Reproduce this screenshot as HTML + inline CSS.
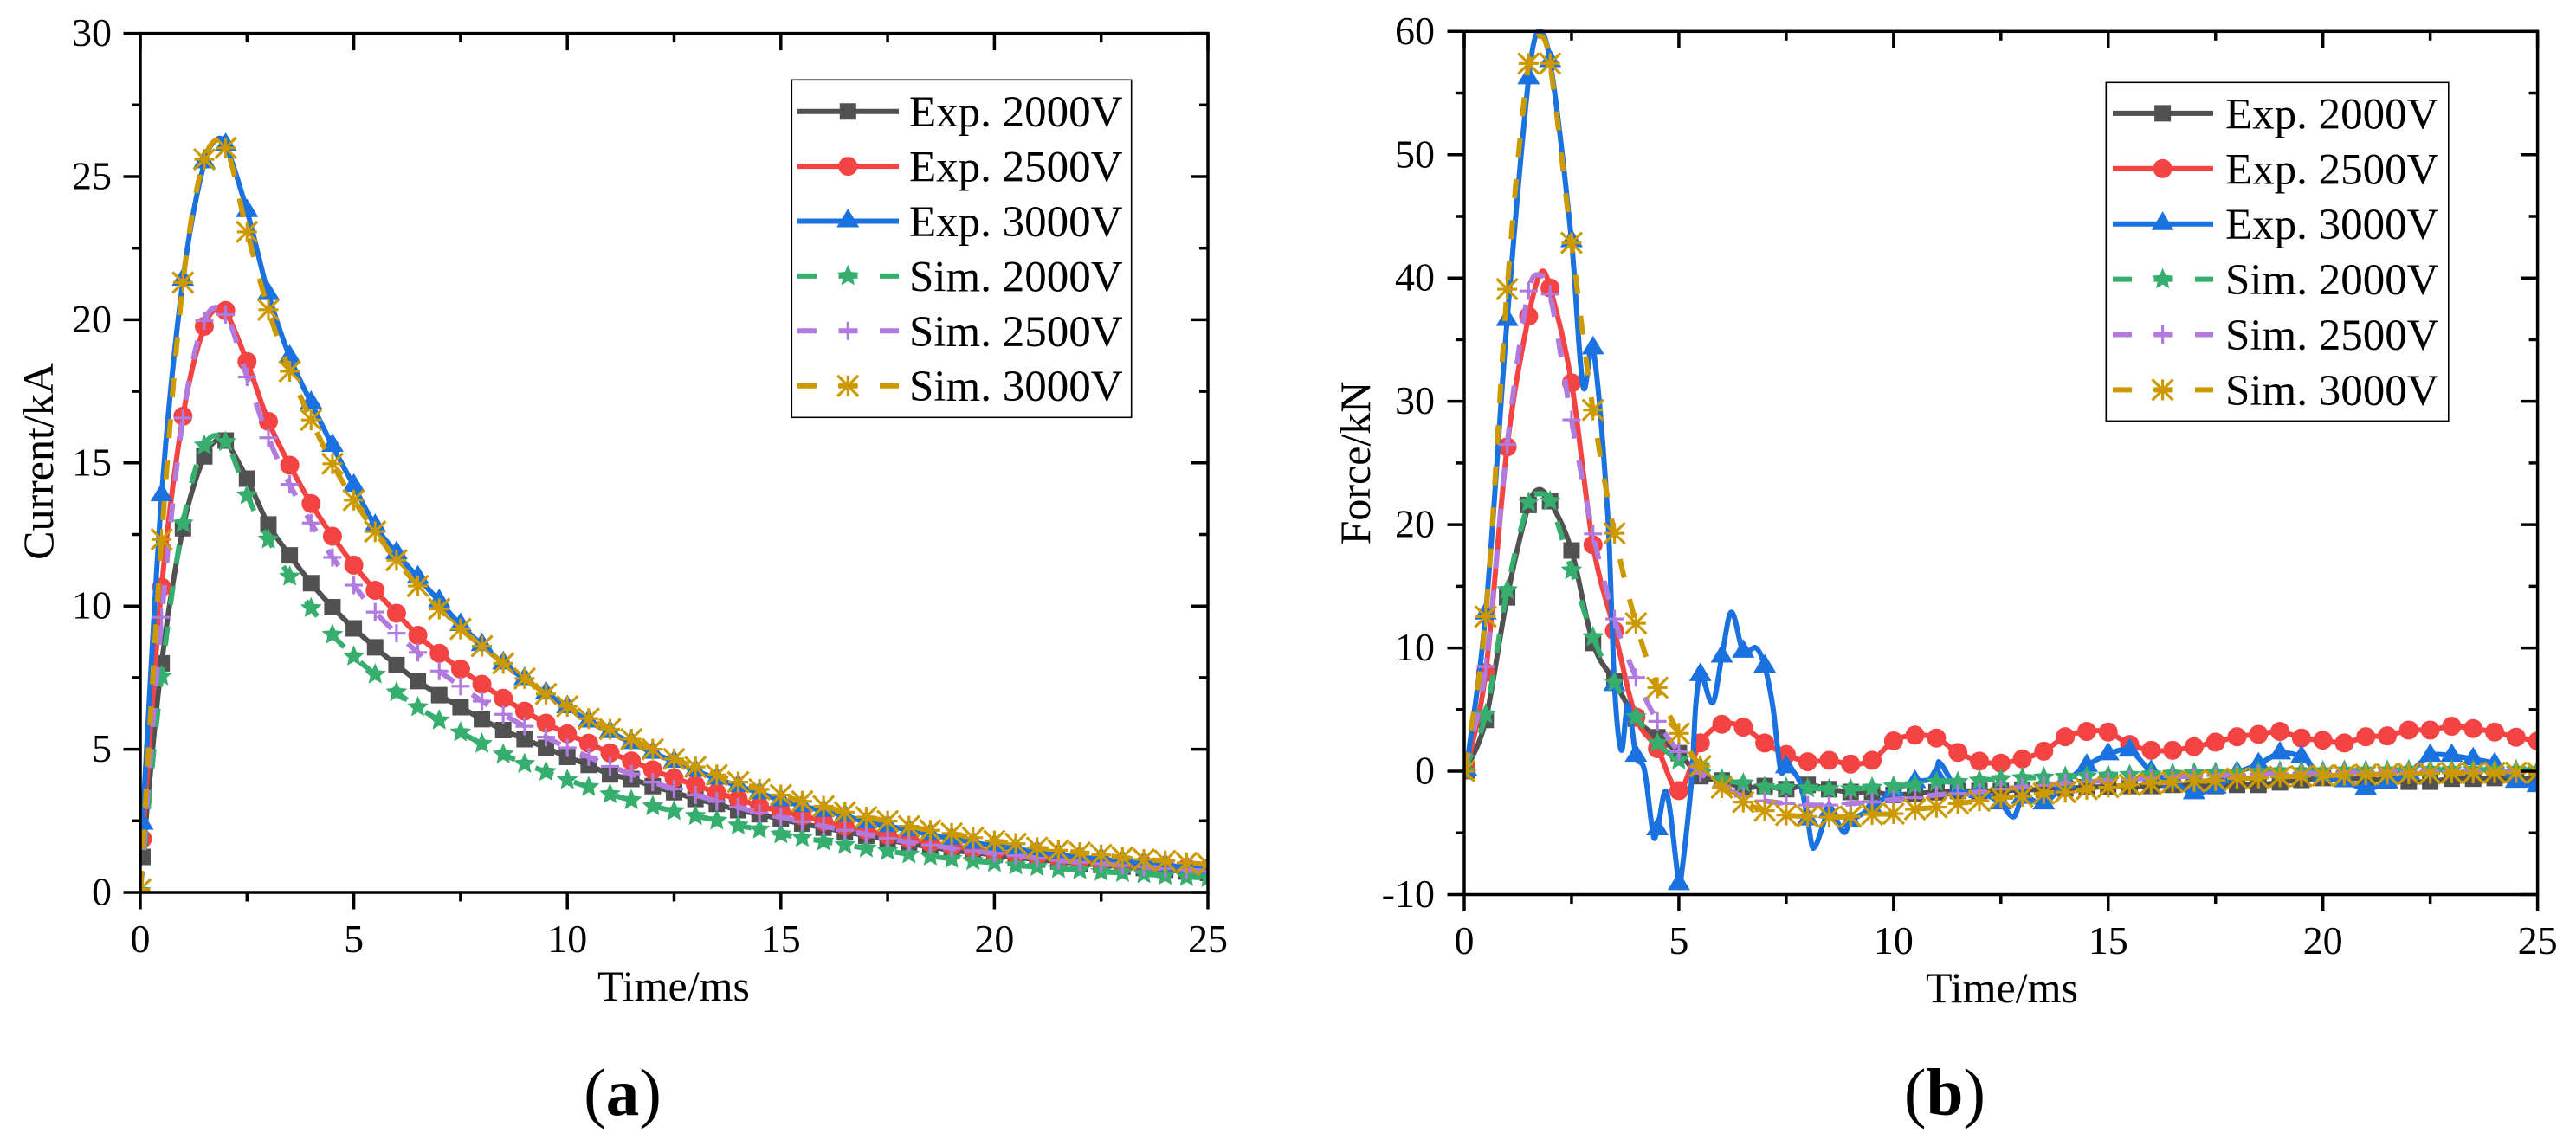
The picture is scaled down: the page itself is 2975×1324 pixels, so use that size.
<!DOCTYPE html>
<html lang="en">
<head>
<meta charset="utf-8">
<title>Current and force versus time</title>
<style>
html,body{margin:0;padding:0;background:#fff;width:2975px;height:1324px;overflow:hidden}
svg{display:block;font-family:"Liberation Serif",serif}
</style>
</head>
<body>
<svg id="figure" xmlns="http://www.w3.org/2000/svg" width="2975" height="1324" viewBox="0 0 2975 1324">
<rect width="2975" height="1324" fill="#fff"/>
</svg>
<script>
// ---- data ----
const simTimes = [0,0.5,1,1.5,2,2.5,3,3.5,4,4.5,5,5.5,6,6.5,7,7.5,8,8.5,9,9.5,10,10.5,11,11.5,12,12.5,13,13.5,14,14.5,15,15.5,16,16.5,17,17.5,18,18.5,19,19.5,20,20.5,21,21.5,22,22.5,23,23.5,24,24.5,25];
const expTimes = [0.05,0.5,1,1.5,2,2.5,3,3.5,4,4.5,5,5.5,6,6.5,7,7.5,8,8.5,9,9.5,10,10.5,11,11.5,12,12.5,13,13.5,14,14.5,15,15.5,16,16.5,17,17.5,18,18.5,19,19.5,20,20.5,21,21.5,22,22.5,23,23.5,24,24.5,25];

const seriesNames = ["Exp. 2000V","Exp. 2500V","Exp. 3000V","Sim. 2000V","Sim. 2500V","Sim. 3000V"];

const currentExp2000 = [1.24,8.0,12.72,15.23,15.78,14.45,12.85,11.77,10.8,9.96,9.22,8.56,7.94,7.38,6.89,6.47,6.05,5.67,5.35,5.05,4.73,4.45,4.12,3.96,3.71,3.5,3.26,3.09,2.87,2.73,2.56,2.4,2.26,2.12,1.98,1.84,1.7,1.59,1.47,1.39,1.31,1.22,1.15,1.08,1.01,0.96,0.9,0.85,0.79,0.73,0.68];
const currentExp2500 = [1.87,10.66,16.63,19.77,20.32,18.54,16.45,14.92,13.58,12.44,11.43,10.55,9.75,8.98,8.35,7.8,7.27,6.78,6.33,5.91,5.54,5.21,4.87,4.59,4.28,3.99,3.75,3.48,3.26,3.01,2.84,2.67,2.48,2.31,2.17,2.0,1.87,1.73,1.61,1.52,1.42,1.33,1.26,1.19,1.12,1.07,1.01,0.96,0.9,0.86,0.82];
const currentExp3000 = [2.4,13.87,21.4,25.5,26.1,23.8,20.9,18.7,17.1,15.6,14.2,12.8,11.85,11.0,10.17,9.34,8.64,8.0,7.45,6.95,6.47,5.97,5.6,5.22,4.88,4.56,4.25,3.97,3.72,3.47,3.22,3.02,2.85,2.68,2.45,2.32,2.17,2.02,1.88,1.74,1.63,1.52,1.42,1.32,1.24,1.16,1.08,1.02,0.95,0.88,0.85];
const currentSim2000 = [0.05,7.55,12.89,15.61,15.73,13.87,12.33,11.03,9.93,9.0,8.24,7.61,6.99,6.47,6.01,5.59,5.19,4.82,4.49,4.21,3.93,3.68,3.43,3.22,3.01,2.84,2.67,2.51,2.34,2.2,2.03,1.91,1.78,1.66,1.54,1.45,1.33,1.26,1.17,1.1,1.03,0.94,0.89,0.82,0.78,0.72,0.68,0.64,0.58,0.54,0.5];
const currentSim2500 = [0.05,9.61,16.57,19.97,20.18,18.0,15.88,14.25,12.9,11.7,10.73,9.79,9.05,8.38,7.73,7.2,6.68,6.22,5.8,5.42,5.05,4.73,4.4,4.14,3.85,3.61,3.4,3.18,2.98,2.77,2.63,2.47,2.31,2.17,2.03,1.89,1.75,1.66,1.54,1.45,1.36,1.28,1.19,1.12,1.05,1.0,0.94,0.89,0.83,0.78,0.73];
const currentSim3000 = [0.1,12.33,21.3,25.6,26.0,23.07,20.35,18.2,16.5,14.97,13.7,12.6,11.6,10.7,9.9,9.2,8.6,8.0,7.47,6.93,6.5,6.07,5.7,5.35,5.0,4.66,4.38,4.1,3.85,3.6,3.4,3.18,3.01,2.8,2.63,2.49,2.31,2.17,2.06,1.91,1.8,1.7,1.56,1.47,1.39,1.31,1.22,1.15,1.1,1.03,0.97];

const forceExp2000 = [0.07,4.16,14.1,21.6,21.9,17.9,10.4,7.3,4.28,2.76,1.47,-0.4,-0.75,-1.33,-1.2,-1.45,-1.1,-1.45,-1.68,-1.68,-1.92,-1.8,-1.7,-1.6,-1.6,-1.6,-1.5,-1.5,-1.4,-1.3,-1.25,-1.2,-1.2,-1.1,-1.2,-1.2,-1.1,-1.1,-0.9,-0.7,-0.55,-0.6,-0.6,-0.8,-0.85,-0.85,-0.6,-0.6,-0.55,-0.6,-0.55];
const forceExp2500 = [0.1,8.02,26.3,36.9,39.2,31.5,18.36,11.4,4.4,1.83,-1.57,2.3,3.81,3.58,2.29,1.36,0.77,0.89,0.58,0.89,2.46,2.93,2.69,1.52,0.82,0.65,1.0,1.63,2.8,3.23,3.18,2.17,1.7,1.7,1.99,2.36,2.8,2.99,3.23,2.69,2.52,2.29,2.8,2.87,3.34,3.34,3.65,3.46,3.18,2.76,2.45];
const forceExp3000 = [0.1,12.8,36.6,56.2,57.6,43,34.3,7.0,1.26,-4.7,-9.15,7.8,9.3,9.7,8.5,0.33,-3.9,-3.3,-4.07,-3,-1.57,-0.87,-0.4,-1.57,-1.68,-2.6,-2.15,-2.6,-0.9,0.44,1.38,1.68,-0.03,-0.87,-1.78,-1.31,-0.14,0.56,1.45,1.14,-0.4,-0.8,-1.43,-0.9,-0.14,1.26,1.26,0.98,0.56,-0.85,-1.2];
const forceSim2000 = [0,4.63,14.7,21.8,21.9,16.3,10.88,7.2,4.4,2.29,0.89,0.42,-0.63,-0.98,-1.28,-1.33,-1.38,-1.45,-1.45,-1.33,-1.22,-1.1,-0.87,-0.87,-0.75,-0.63,-0.55,-0.5,-0.45,-0.4,-0.35,-0.3,-0.25,-0.2,-0.15,-0.1,-0.1,-0.05,0,0,0,0.05,0.05,0.05,0.1,0.1,0.1,0.1,0.1,0.1,0.1];
const forceSim2500 = [0,8.49,26.5,38.95,38.7,28.5,19.25,12.35,7.6,4.05,1.59,-0.16,-1.2,-2.03,-2.4,-2.62,-2.74,-2.74,-2.62,-2.5,-2.3,-2.15,-1.92,-1.8,-1.68,-1.45,-1.28,-1.15,-0.95,-0.85,-0.75,-0.65,-0.55,-0.45,-0.4,-0.35,-0.3,-0.25,-0.2,-0.2,-0.15,-0.1,-0.1,-0.05,-0.05,0,0,0,0,0,0];
const forceSim3000 = [0,12.54,39.1,57.4,57.4,42.85,29.3,19.3,12.0,6.78,3.07,0.42,-1.33,-2.5,-3.2,-3.55,-3.67,-3.72,-3.67,-3.5,-3.44,-3.09,-2.92,-2.62,-2.4,-2.15,-2.04,-1.8,-1.69,-1.45,-1.29,-1.1,-0.99,-0.87,-0.82,-0.75,-0.59,-0.54,-0.45,-0.4,-0.35,-0.33,-0.28,-0.24,-0.21,-0.17,-0.14,-0.14,-0.12,-0.12,-0.12];

// extra line-only samples between markers: [ms, value]
const currentPeakExp2000 = [[1.85,15.85]];
const currentPeakExp2500 = [[1.85,20.45]];
const currentPeakExp3000 = [[1.8,26.3]];
const forcePeakExp2000 = [[1.74,22.85]];
const forcePeakExp2500 = [[1.8,40.5]];
const forceDetailExp3000 = [[1.72,60],[2.77,31.2],[3.35,20.4],[3.66,1.7],[3.81,5.4],[4.2,0.07],[4.41,-5.3],[4.71,-1.7],[5.03,-9.3],[5.3,-0.6],[5.39,5.2],[5.79,5.57],[6.22,12.9],[6.8,10],[7.19,5.2],[7.37,0.07],[7.82,-0.9],[8.13,-6.25],[8.85,-4.96],[11.05,0.77],[12.8,-3.7]];
const forcePeakSim2000 = [[1.75,22.5]];
const forcePeakSim2500 = [[1.8,40.2]];
const forcePeakSim3000 = [[1.8,59.6]];

const xTickLabels = [0,5,10,15,20,25];
const xMinorTicks = [2.5,7.5,12.5,17.5,22.5];
const currentTickLabels = [0,5,10,15,20,25,30];
const currentMinorTicks = [2.5,7.5,12.5,17.5,22.5,27.5];
const forceTickLabels = [-10,0,10,20,30,40,50,60];
const forceMinorTicks = [-5,5,15,25,35,45,55];

// ---- styles ----
const seriesColors = ["#515151","#f44343","#1a71e0","#36ae6e","#b07ade","#cc9900"];
const markerKinds = ["square","circle","triangle","star","plus","asterisk"];
const NS = "http://www.w3.org/2000/svg";
const root = document.getElementById("figure");

function make(parent, tag, attrs, text){
  const node = document.createElementNS(NS, tag);
  for (const k in attrs) node.setAttribute(k, attrs[k]);
  if (text !== undefined) node.textContent = text;
  parent.appendChild(node);
  return node;
}
function slug(name){ return name.toLowerCase().replace(/\. /,"-"); }

function starPath(R, r){
  let d = "";
  for (let i = 0; i < 10; i++){
    const a = -Math.PI/2 + i*Math.PI/5;
    const rad = i%2 ? r : R;
    d += (i?"L":"M") + (rad*Math.cos(a)).toFixed(2) + " " + (rad*Math.sin(a)).toFixed(2);
  }
  return d + "Z";
}
const markerShapes = {
  square:  {d:"M-9.5 -9.5H9.5V9.5H-9.5Z", filled:true},
  circle:  {d:"M-11 0A11 11 0 1 1 11 0A11 11 0 1 1 -11 0Z", filled:true},
  triangle:{d:"M0 -14.5L13 7H-13Z", filled:true},
  star:    {d:starPath(13,6), filled:true},
  plus:    {d:"M-10.5 0H10.5M0 -10.5V10.5", filled:false},
  asterisk:{d:"M-11.5 0H11.5M0 -12V12M-12 -12L12 12M-12 12L12 -12", filled:false}
};
function drawMarker(parent, kind, color, x, y){
  const s = markerShapes[kind];
  const attrs = {d:s.d, transform:"translate("+x.toFixed(2)+" "+y.toFixed(2)+")"};
  if (s.filled){ attrs.fill = color; }
  else { attrs.fill = "none"; attrs.stroke = color; attrs["stroke-width"] = 3.2; }
  return make(parent, "path", attrs);
}
function smoothPath(pts){
  const n = pts.length;
  const m = pts.map((p,i)=>{
    const a = pts[Math.max(i-1,0)], b = pts[Math.min(i+1,n-1)];
    return (b[1]-a[1])/((b[0]-a[0])||1);
  });
  let d = "M"+pts[0][0].toFixed(2)+" "+pts[0][1].toFixed(2);
  for (let i = 0; i < n-1; i++){
    const dx = (pts[i+1][0]-pts[i][0])/3;
    d += "C"+(pts[i][0]+dx).toFixed(2)+" "+(pts[i][1]+m[i]*dx).toFixed(2)+" "
      +(pts[i+1][0]-dx).toFixed(2)+" "+(pts[i+1][1]-m[i+1]*dx).toFixed(2)+" "
      +pts[i+1][0].toFixed(2)+" "+pts[i+1][1].toFixed(2);
  }
  return d;
}

function drawPanel(cfg){
  const panel = make(root, "g", {});
  
  

  const xs = t => cfg.x0 + (t-0)*(cfg.x1-cfg.x0)/25;
  const ys = v => cfg.y0 + (v-cfg.vMin)*(cfg.y1-cfg.y0)/(cfg.vMax-cfg.vMin);

  const clipId = cfg.name + "-clip";
  const defs = make(panel, "defs", {});
  const clip = make(defs, "clipPath", {id:clipId});
  make(clip, "rect", {x:cfg.x0, y:cfg.y1-3, width:cfg.x1-cfg.x0, height:cfg.y0-cfg.y1+3});

  const plot = make(panel, "g", {"clip-path":"url(#"+clipId+")"});
  
  

  cfg.series.forEach((vals,i)=>{
    const times = i < 3 ? expTimes : simTimes;
    const color = seriesColors[i];
    const g = make(plot, "g", {});
    
    
    const samples = times.map((t,k)=>[t,vals[k]]).concat(cfg.extras[i]||[]).sort((a,b)=>a[0]-b[0]);
    const attrs = {d:smoothPath(samples.map(p=>[xs(p[0]),ys(p[1])])), fill:"none", stroke:color, "stroke-width":6, "stroke-linejoin":"round"};
    if (i >= 3) attrs["stroke-dasharray"] = "22 25.5";
    const line = make(g, "path", attrs);
    
    
    times.forEach((t,k)=>{
      const mk = drawMarker(g, markerKinds[i], color, xs(t), ys(vals[k]));
      
      
    });
  });

  // axes frame
  const axes = make(panel, "g", {stroke:"#000","stroke-width":3.5,fill:"none"});
  
  
  const frame = make(axes, "rect", {x:cfg.x0, y:cfg.y1, width:cfg.x1-cfg.x0, height:cfg.y0-cfg.y1});
  
  

  const xMajor = 19.5, xMinor = 10.5, yMajor = 19.5, yMinor = 10;
  function xTick(t, len, name){
    const a = make(axes, "line", {x1:xs(t), x2:xs(t), y1:cfg.y0, y2:cfg.y0+len});
    
    
    const b = make(axes, "line", {x1:xs(t), x2:xs(t), y1:cfg.y1, y2:cfg.y1+len});
    
    
  }
  function yTick(v, len, name){
    const a = make(axes, "line", {x1:cfg.x0-len, x2:cfg.x0, y1:ys(v), y2:ys(v)});
    
    
    const b = make(axes, "line", {x1:cfg.x1-len, x2:cfg.x1, y1:ys(v), y2:ys(v)});
    
    
  }
  xTickLabels.forEach(t=>xTick(t, xMajor, 'x-major-tick'));
  xMinorTicks.forEach(t=>xTick(t, xMinor, 'x-minor-tick'));
  cfg.yTicks.forEach(v=>yTick(v, yMajor, 'y-major-tick'));
  cfg.yMinor.forEach(v=>yTick(v, yMinor, 'y-minor-tick'));

  // tick labels
  xTickLabels.forEach(t=>{
    const lab = make(panel, "text", {x:xs(t), y:cfg.xLabelBase, "font-size":46, "text-anchor":"middle", fill:"#000"}, String(t));
    
    
  });
  cfg.yTicks.forEach(v=>{
    const lab = make(panel, "text", {x:cfg.yLabelRight, y:ys(v)+14.5, "font-size":46, "text-anchor":"end", fill:"#000"}, String(v));
    
    
  });

  // axis titles
  const xt = make(panel, "text", {x:cfg.xTitleX, y:cfg.xTitleY, "font-size":50, "text-anchor":"middle", fill:"#000"}, "Time/ms");
  
  
  const yt = make(panel, "text", {transform:"translate("+cfg.yTitleX+" "+cfg.yTitleY+") rotate(-90)", "font-size":50, "text-anchor":"middle", fill:"#000"}, cfg.yTitle);
  
  

  // legend
  const L = cfg.legend;
  const legend = make(panel, "g", {});
  
  
  const box = make(legend, "rect", {x:L.x0, y:L.y0, width:L.x1-L.x0, height:L.y1-L.y0, fill:"#fff", stroke:"#000", "stroke-width":1.6});
  
  
  seriesNames.forEach((name,i)=>{
    const cy = L.firstRow + i*L.rowGap;
    const entry = make(legend, "g", {});
    
    
    const la = {x1:L.lineX0, x2:L.lineX1, y1:cy, y2:cy, stroke:seriesColors[i], "stroke-width":6};
    if (i >= 3) la["stroke-dasharray"] = "22 25.5";
    const sw = make(entry, "line", la);
    
    
    const mk = drawMarker(entry, markerKinds[i], seriesColors[i], L.markerX, cy);
    
    
    const tx = make(entry, "text", {x:L.textX, y:cy+17.5, "font-size":51, fill:"#000", "xml:space":"preserve"}, name);
    
    
  });

  // panel label
  const pl = make(panel, "text", {x:cfg.tagX, y:1288, "font-size":77, "text-anchor":"middle", fill:"#000"});
  
  
  make(pl, "tspan", {}, "(");
  make(pl, "tspan", {"font-weight":"bold"}, cfg.tag);
  make(pl, "tspan", {}, ")");
}

drawPanel({
  name:"panel-a-current", tag:"a", tagX:719,
  x0:162, x1:1395, y0:1031, y1:38.6, vMin:0, vMax:30,
  series:[currentExp2000,currentExp2500,currentExp3000,currentSim2000,currentSim2500,currentSim3000],
  extras:[currentPeakExp2000,currentPeakExp2500,currentPeakExp3000,[],[],[]],
  yTicks:currentTickLabels, yMinor:currentMinorTicks,
  xLabelBase:1100, yLabelRight:129,
  xTitleX:778, xTitleY:1156, yTitle:"Current/kA", yTitleX:61, yTitleY:533,
  legend:{x0:914.3,x1:1306.7,y0:92.3,y1:482.3,firstRow:128.7,rowGap:63.4,lineX0:921,lineX1:1038,markerX:979.3,textX:1050}
});
drawPanel({
  name:"panel-b-force", tag:"b", tagX:2246,
  x0:1691, x1:2930.6, y0:1033.5, y1:36.3, vMin:-10, vMax:60,
  series:[forceExp2000,forceExp2500,forceExp3000,forceSim2000,forceSim2500,forceSim3000],
  extras:[forcePeakExp2000,forcePeakExp2500,forceDetailExp3000,forcePeakSim2000,forcePeakSim2500,forcePeakSim3000],
  yTicks:forceTickLabels, yMinor:forceMinorTicks,
  xLabelBase:1102, yLabelRight:1657,
  xTitleX:2312, xTitleY:1158, yTitle:"Force/kN", yTitleX:1582, yTitleY:535,
  legend:{x0:2432.3,x1:2827.8,y0:95.3,y1:486.4,firstRow:130.9,rowGap:63.9,lineX0:2440,lineX1:2556,markerX:2497.6,textX:2570}
});
</script>
</body>
</html>
